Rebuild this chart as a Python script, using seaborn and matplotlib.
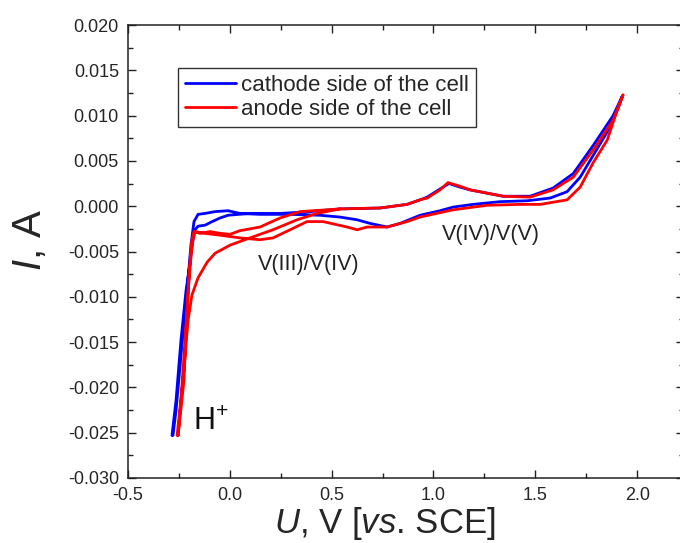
import numpy as np
import pandas as pd
import matplotlib
matplotlib.use("Agg")
import matplotlib.pyplot as plt
from matplotlib.ticker import MultipleLocator, FormatStrFormatter
import seaborn as sns

# ---------------- data ----------------
series_names = ["cathode side of the cell", "anode side of the cell"]
series_colors = ["#0000FF", "#FF0000"]

blue_U = [-0.284, -0.264, -0.240, -0.215, -0.195, -0.181, -0.171, -0.156, -0.122, -0.087,
          -0.048, -0.009, 0.099, 0.247, 0.394, 0.541, 0.738, 0.870, 0.934, 0.969, 1.032,
          1.076, 1.131, 1.180, 1.342, 1.474, 1.587, 1.686, 1.784, 1.882, 1.926,
          1.907, 1.853, 1.784, 1.720, 1.656, 1.573, 1.460, 1.327, 1.194, 1.096, 1.032,
          0.934, 0.836, 0.772, 0.689, 0.625, 0.541, 0.443, 0.296, 0.148, 0.050, -0.009,
          -0.073, -0.122, -0.156, -0.176, -0.191, -0.210, -0.235, -0.264, -0.279]
blue_I = [-0.0253, -0.0214, -0.0148, -0.0093, -0.0062, -0.0037, -0.0026, -0.0022, -0.0021, -0.0017,
          -0.0013, -0.0010, -0.0008, -0.0008, -0.0006, -0.0003, -0.0002, 0.0002, 0.0007, 0.0010, 0.0019,
          0.0025, 0.0021, 0.0018, 0.0011, 0.0011, 0.0020, 0.0036, 0.0067, 0.0100, 0.0121,
          0.0108, 0.0082, 0.0056, 0.0032, 0.0016, 0.0009, 0.0006, 0.0005, 0.0002, -0.0001, -0.0005,
          -0.0010, -0.0019, -0.0023, -0.0019, -0.0015, -0.0012, -0.0010, -0.0009, -0.0009, -0.0008, -0.0005,
          -0.0006, -0.0008, -0.0009, -0.0017, -0.0043, -0.0093, -0.0153, -0.0225, -0.0253]

red_U = [-0.254, -0.225, -0.215, -0.205, -0.195, -0.186, -0.176, -0.146, -0.097, -0.048,
         0.001, 0.050, 0.148, 0.247, 0.345, 0.541, 0.738, 0.870, 0.934, 0.969, 1.032,
         1.071, 1.131, 1.180, 1.342, 1.474, 1.587, 1.686, 1.784, 1.882, 1.931,
         1.902, 1.853, 1.784, 1.720, 1.656, 1.524, 1.425, 1.263, 1.096, 0.934, 0.870,
         0.772, 0.674, 0.625, 0.576, 0.458, 0.379, 0.296, 0.212, 0.148, 0.050, -0.048,
         -0.122, -0.171, -0.186, -0.200, -0.220, -0.240, -0.254,
         -0.259, -0.230, -0.205, -0.186, -0.156, -0.112, -0.073, 0.001, 0.099, 0.212,
         0.330, 0.428, 0.541]
red_I = [-0.0253, -0.0192, -0.0137, -0.0093, -0.0059, -0.0037, -0.0028, -0.0030, -0.0028, -0.0030,
         -0.0031, -0.0027, -0.0023, -0.0013, -0.0006, -0.0003, -0.0002, 0.0002, 0.0007, 0.0009, 0.0018,
         0.0026, 0.0022, 0.0018, 0.0011, 0.0010, 0.0018, 0.0032, 0.0062, 0.0095, 0.0123,
         0.0106, 0.0073, 0.0048, 0.0021, 0.0007, 0.0002, 0.0002, 0.0001, -0.0004, -0.0012, -0.0017,
         -0.0023, -0.0023, -0.0026, -0.0023, -0.0017, -0.0017, -0.0026, -0.0035, -0.0037, -0.0035, -0.0032,
         -0.0030, -0.0028, -0.0043, -0.0081, -0.0148, -0.0214, -0.0253,
         -0.0253, -0.0192, -0.0126, -0.0098, -0.0079, -0.0062, -0.0052, -0.0043, -0.0035, -0.0026,
         -0.0015, -0.0008, -0.0003]

x_ticks = [-0.5, 0.0, 0.5, 1.0, 1.5, 2.0]
y_ticks = [-0.030, -0.025, -0.020, -0.015, -0.010, -0.005, 0.000, 0.005, 0.010, 0.015, 0.020]

# ---------------- style ----------------
sns.set_style("ticks")
plt.rcParams["font.family"] = ["Liberation Sans", "DejaVu Sans"]
plt.rcParams["mathtext.fontset"] = "custom"
plt.rcParams["mathtext.rm"] = "Liberation Sans"
plt.rcParams["mathtext.it"] = "Liberation Sans:italic"
plt.rcParams["axes.unicode_minus"] = False

df = pd.concat([
    pd.DataFrame({"U": blue_U, "I": blue_I, "series": series_names[0]}),
    pd.DataFrame({"U": red_U, "I": red_I, "series": series_names[1]}),
], ignore_index=True)

fig = plt.figure(figsize=(6.8, 5.43), dpi=100)
ax = fig.add_axes([128 / 680, 1 - 478 / 543, 556 / 680, 453 / 543])

sns.lineplot(data=df, x="U", y="I", hue="series", hue_order=series_names,
             palette=dict(zip(series_names, series_colors)), sort=False,
             estimator=None, linewidth=2.0, ax=ax)

ax.set_xlim(-0.5, 2.23)
ax.set_ylim(-0.030, 0.020)
ax.set_xticks(x_ticks)
ax.set_yticks(y_ticks)
ax.xaxis.set_minor_locator(MultipleLocator(0.25))
ax.yaxis.set_minor_locator(MultipleLocator(0.0025))
ax.xaxis.set_major_formatter(FormatStrFormatter("%.1f"))
ax.yaxis.set_major_formatter(FormatStrFormatter("%.3f"))
ax.tick_params(which="both", direction="in", top=True, right=True, width=1.0, color="#222222")
ax.tick_params(which="major", length=6, labelsize=13, pad=6.5)
ax.tick_params(which="minor", length=3.5)
for sp in ax.spines.values():
    sp.set_linewidth(1.1)
    sp.set_color("#222222")

ax.set_xlabel(r"$U$, V [$vs$. SCE]", fontsize=25, va="center")
ax.xaxis.set_label_coords(0.462, -0.1)
ax.set_ylabel(r"$I$, A", fontsize=29, va="center")
ax.yaxis.set_label_coords(-0.176, 0.525)

handles, labels = ax.get_legend_handles_labels()
leg = ax.legend(handles, labels, loc="upper left", bbox_to_anchor=(0.090, 0.905),
                borderaxespad=0, fontsize=16, frameon=True, fancybox=False,
                edgecolor="#333333", framealpha=1, handlelength=2.3,
                handletextpad=0.25, labelspacing=0.15, borderpad=0.3)
leg.get_frame().set_linewidth(1.0)
for ln in leg.get_lines():
    ln.set_linewidth(2.0)

ax.text(0.389, -0.0064, "V(III)/V(IV)", fontsize=15.5, ha="center", va="center", color="#222222")
ax.text(1.283, -0.0031, "V(IV)/V(V)", fontsize=15.5, ha="center", va="center", color="#222222")
ax.text(-0.181, -0.0247, r"H$^{+}$", fontsize=22, ha="left", va="baseline", color="#111111")

fig.savefig("out.png", dpi=100)
